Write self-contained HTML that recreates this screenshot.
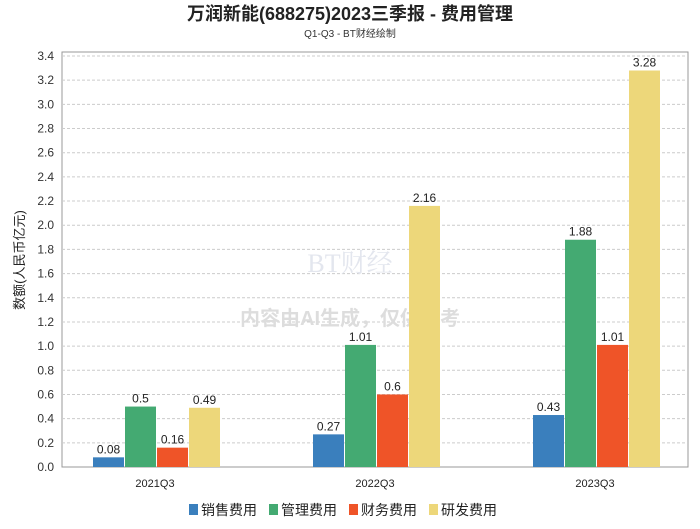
<!DOCTYPE html>
<html><head><meta charset="utf-8"><style>
body{margin:0;background:#fff;font-family:"Liberation Sans","Noto Sans CJK SC",sans-serif}
</style></head><body>
<svg id="c" width="700" height="524" font-family="Liberation Sans, Noto Sans CJK SC, sans-serif"></svg>
<script>
const categories=["2021Q3","2022Q3","2023Q3"];
const seriesNames=["销售费用","管理费用","财务费用","研发费用"];
const colors=["#3a7fbd","#44aa72","#ef5428","#edd77a"];
const s0=[0.08,0.27,0.43];
const s1=[0.5,1.01,1.88];
const s2=[0.16,0.6,1.01];
const s3=[0.49,2.16,3.28];
const series=[s0,s1,s2,s3];
const yTicks=[0,0.2,0.4,0.6,0.8,1.0,1.2,1.4,1.6,1.8,2.0,2.2,2.4,2.6,2.8,3.0,3.2,3.4];
const NS="http://www.w3.org/2000/svg",svg=document.getElementById('c');
function el(t,a,txt){const e=document.createElementNS(NS,t);for(const k in a)e.setAttribute(k,a[k]);if(txt!==undefined)e.textContent=txt;svg.appendChild(e);return e;}
const L=62,R=688,T=52,B=467,yMax=3.4,yTop=56;
const y=v=>B-(v/yMax)*(B-yTop);
const xc=i=>155+220*i;
let t=el('text',{x:350,y:20,'text-anchor':'middle','font-size':18,'font-weight':'bold',fill:'#222'},'万润新能(688275)2023三季报 - 费用管理');

t=el('text',{x:350,y:37,'text-anchor':'middle','font-size':10,fill:'#333'},'Q1-Q3 - BT财经绘制');

let r=el('rect',{x:L,y:T,width:R-L,height:B-T,fill:'none',stroke:'#999'});

yTicks.forEach(v=>{
 if(v>0){const g=el('line',{x1:L,x2:R,y1:y(v),y2:y(v),stroke:'#ccc','stroke-dasharray':'3,2'});}
 const lb=el('text',{x:L-8,y:y(v)+4,'text-anchor':'end','font-size':12,fill:'#333'},v.toFixed(1));
 
});
t=el('text',{x:0,y:0,transform:'translate(24,260) rotate(-90)','text-anchor':'middle','font-size':13,fill:'#222'},'数额(人民币亿元)');

let wm=el('text',{x:350,y:325,'text-anchor':'middle','font-size':20,fill:'#ddd','font-weight':'bold'},'内容由AI生成，仅供参考');

wm=el('text',{x:350,y:272,'text-anchor':'middle','font-size':26,fill:'#e3e6ee','font-family':'Liberation Serif, Noto Serif CJK SC, serif'},'BT财经');

const bw=31,pitch=32;
categories.forEach((c,i)=>{
 series.forEach((s,j)=>{
  const x0=xc(i)-62+j*pitch;
  const b=el('rect',{x:x0,y:y(s[i]),width:bw,height:B-y(s[i]),fill:colors[j]});
  
  const l=el('text',{x:x0+bw/2,y:y(s[i])-4,'text-anchor':'middle','font-size':12,fill:'#222'},String(s[i]));
  
 });
 const lb=el('text',{x:xc(i),y:487,'text-anchor':'middle','font-size':11,fill:'#222'},c);
 
});
const lx=[189,269,349,429];
seriesNames.forEach((n,j)=>{
 const sq=el('rect',{x:lx[j],y:504,width:9,height:11,fill:colors[j]});
 
 const lt=el('text',{x:lx[j]+12,y:515,'font-size':14,fill:'#222'},n);
 
});
</script>
</body></html>
